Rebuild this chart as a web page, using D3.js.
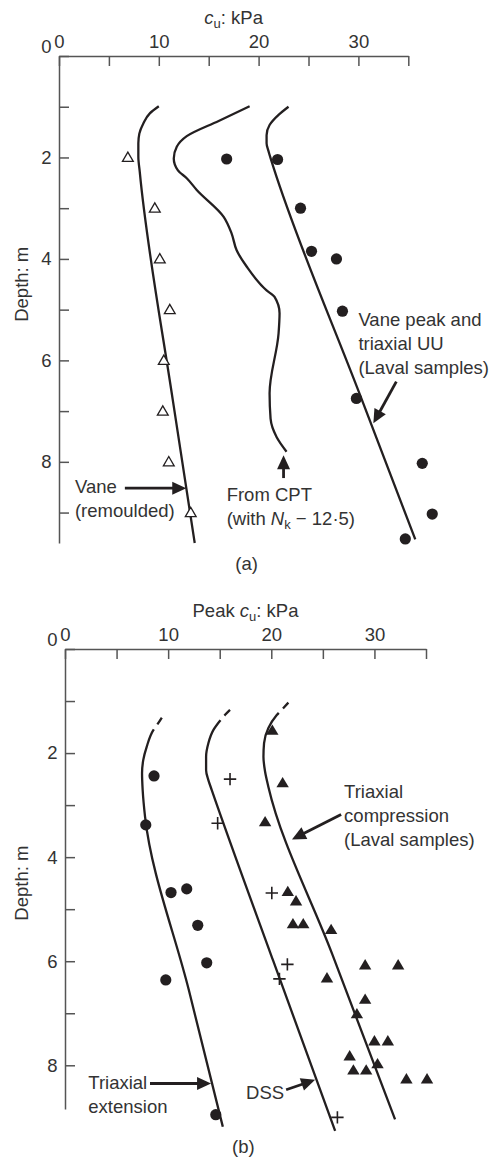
<!DOCTYPE html>
<html>
<head>
<meta charset="utf-8">
<script src="https://cdn.jsdelivr.net/npm/d3@7"></script>
<style>
  body { margin: 0; background: #fff; }
  svg { display: block; font-family: "Liberation Sans", Arial, Helvetica, sans-serif; }
</style>
</head>
<body>
<script>
// axis ticks
const kpaTicks = [0, 5, 10, 15, 20, 25, 30, 35];
const depthTicksA = [0, 1, 2, 3, 4, 5, 6, 7, 8, 9];
const depthTicksB = [0, 1, 2, 3, 4, 5, 6, 7, 8];

// (a) values are [cu kPa, depth m]
const remouldedPoints = [[6.9, 2], [9.6, 3], [10.1, 4], [11.1, 5], [10.5, 6], [10.4, 7], [11.0, 8], [13.2, 9]];
const remouldedCurve = [[10.0, 0.99], [9.1, 1.13], [8.45, 1.33], [8.05, 1.53], [7.95, 1.72], [7.95, 1.98],
  [8.1, 2.3], [11.4, 6.78], [13.6, 9.6]];
const cptCurve = [[19.1, 0.99], [16.0, 1.28], [12.8, 1.58], [11.8, 1.79], [11.5, 2.02], [11.9, 2.25], [12.8, 2.41],
  [13.8, 2.64], [16.5, 3.17], [17.3, 3.5], [17.8, 3.83], [18.8, 4.15], [20.8, 4.62], [21.6, 4.75], [22.1, 5.07],
  [22.0, 5.47], [21.1, 6.65], [21.2, 7.15], [21.8, 7.51], [22.8, 7.8]];
const peakPoints = [[16.8, 2.03], [21.9, 2.04], [24.2, 3.0], [25.3, 3.85], [27.8, 4.0], [28.4, 5.03],
  [29.8, 6.75], [36.4, 8.03], [37.4, 9.03], [34.7, 9.52]];
const peakCurve = [[23.0, 1.0], [22.0, 1.16], [21.1, 1.36], [20.8, 1.56], [20.8, 1.72], [20.97, 1.86], [21.1, 1.95],
  [21.5, 2.2], [30.2, 6.7], [35.7, 9.53]];

// (b)
const extPoints = [[8.63, 2.44], [7.83, 3.38], [10.28, 4.68], [11.8, 4.61], [12.87, 5.31], [13.74, 6.03],
  [9.77, 6.36], [14.62, 8.95]];
const extCurve = [[9.38, 1.32], [8.95, 1.45], [8.56, 1.56], [7.92, 1.88], [7.59, 2.13], [7.47, 2.39], [7.53, 2.71],
  [7.76, 3.22], [12.0, 6.55], [15.3, 9.18]];
const dssPoints = [[16.0, 2.5], [14.8, 3.35], [20.05, 4.69], [21.56, 6.06], [20.79, 6.34], [26.41, 9.0]];
const dssCurve = [[16.0, 1.17], [15.5, 1.27], [15.03, 1.38], [14.38, 1.56], [13.9, 1.81], [13.68, 2.07],
  [13.68, 2.33], [13.9, 2.52], [14.23, 2.71], [20.2, 6.0], [26.19, 9.26]];
const compPoints = [[20.1, 1.56], [21.1, 2.57], [19.4, 3.32], [21.6, 4.66], [22.4, 4.84], [22.1, 5.28],
  [23.1, 5.28], [25.8, 5.39], [29.1, 6.07], [32.3, 6.07], [25.4, 6.32], [29.1, 6.73], [28.3, 7.01],
  [30.0, 7.53], [31.3, 7.53], [27.6, 7.82], [27.96, 8.09], [29.2, 8.09], [30.3, 7.97], [33.1, 8.26], [35.1, 8.26]];
const compCurve = [[21.66, 1.03], [21.1, 1.15], [20.53, 1.27], [19.72, 1.52], [19.3, 1.81], [19.24, 2.07],
  [19.4, 2.36], [19.72, 2.65], [25.9, 5.86], [32.0, 9.04]];

const ink = "#231f20";
const axisInk = "#555";
const fs = 18.5;

const svg = d3.select("body").append("svg")
  .attr("width", 496)
  .attr("height", 1157);

function panel(o) {
  const x = d3.scaleLinear().domain([0, 35]).range(o.xr);
  const y = d3.scaleLinear().domain([0, o.dmax]).range(o.yr);
  const g = svg.append("g");

  const ax = g.append("g")
    .attr("transform", `translate(0,${y(0)})`)
    .call(d3.axisTop(x).tickValues(kpaTicks).tickFormat(d => d % 10 ? "" : d)
      .tickSizeInner(-10).tickSizeOuter(0).tickPadding(8));
  const ay = g.append("g")
    .attr("transform", `translate(${x(0)},0)`)
    .call(d3.axisLeft(y).tickValues(o.depthTicks).tickFormat(d => d % 2 ? "" : d)
      .tickSizeInner(-10).tickSizeOuter(0).tickPadding(7.5));

  [ax, ay].forEach(a => {
    a.attr("font-size", fs).attr("font-family", null);
    a.selectAll("path, line").attr("stroke", axisInk).attr("stroke-width", 1.5);
    a.selectAll("text").attr("fill", "#333");
  });
  ay.selectAll(".tick text").filter(d => d === 0).attr("y", -9);

  // axis titles
  const t = g.append("text")
    .attr("x", (o.xr[0] + o.xr[1]) / 2)
    .attr("y", y(0) - 32)
    .attr("text-anchor", "middle")
    .attr("font-size", fs)
    .attr("fill", "#333");
  t.append("tspan").text(o.prefix);
  t.append("tspan").attr("font-style", "italic").text("c");
  t.append("tspan").attr("font-size", 13).attr("dy", 4).text("u");
  t.append("tspan").attr("dy", -4).text(": kPa");

  g.append("text")
    .attr("transform", `translate(28,${y(4.5)}) rotate(-90)`)
    .attr("text-anchor", "middle")
    .attr("font-size", fs)
    .attr("fill", "#333")
    .text("Depth: m");

  return { x, y, g };
}

function curve(p, data, dash) {
  const line = d3.line()
    .x(d => p.x(d[0]))
    .y(d => p.y(d[1]))
    .curve(d3.curveMonotoneY);
  p.g.append("path")
    .attr("d", line(data))
    .attr("fill", "none")
    .attr("stroke", ink)
    .attr("stroke-width", 2.3)
    .attr("stroke-dasharray", dash || null);
}

function markers(p, data, shape, filled) {
  const sel = p.g.append("g").selectAll("path")
    .data(data)
    .join("path")
    .attr("transform", d => `translate(${p.x(d[0])},${p.y(d[1])})`)
    .attr("d", shape);
  if (filled === "stroke") {
    sel.attr("fill", "none").attr("stroke", ink).attr("stroke-width", 1.6);
  } else if (filled) {
    sel.attr("fill", ink);
  } else {
    sel.attr("fill", "#fff").attr("stroke", ink).attr("stroke-width", 1.3);
  }
}

function label(p, kpa, depth, lines, anchor) {
  const t = p.g.append("text")
    .attr("font-size", fs)
    .attr("fill", "#333")
    .attr("text-anchor", anchor || "start");
  lines.forEach((ln, i) => {
    const row = t.append("tspan").attr("x", p.x(kpa)).attr("y", p.y(depth) + i * 24);
    if (typeof ln === "string") {
      row.text(ln);
    } else {
      ln(row);
    }
  });
}

function arrow(p, from, to) {
  const x1 = p.x(from[0]), y1 = p.y(from[1]);
  const x2 = p.x(to[0]), y2 = p.y(to[1]);
  const len = Math.hypot(x2 - x1, y2 - y1);
  const ux = (x2 - x1) / len, uy = (y2 - y1) / len;
  const hl = 14, hw = 6.5;
  const bx = x2 - ux * hl, by = y2 - uy * hl;
  p.g.append("line")
    .attr("x1", x1).attr("y1", y1)
    .attr("x2", bx + ux * 2).attr("y2", by + uy * 2)
    .attr("stroke", ink).attr("stroke-width", 2.8);
  p.g.append("path")
    .attr("d", `M${x2},${y2}L${bx - uy * hw},${by + ux * hw}L${bx + uy * hw},${by - ux * hw}Z`)
    .attr("fill", ink);
}

const openTri = "M0,-5.3L5.4,4L-5.4,4Z";
const solidTri = "M0,-5.8L6.2,4.6L-6.2,4.6Z";
const dot = d3.symbol(d3.symbolCircle, Math.PI * 5.6 * 5.6)();
const cross = "M-6.2,0H6.2M0,-6.2V6.2";

// ---- (a)
const pa = panel({ xr: [59, 408.3], yr: [56, 543], dmax: 9.6, depthTicks: depthTicksA, prefix: "" });
curve(pa, remouldedCurve);
curve(pa, cptCurve);
curve(pa, peakCurve);
markers(pa, remouldedPoints, openTri, false);
markers(pa, peakPoints, dot, true);

label(pa, 30.0, 5.33, ["Vane peak and", "triaxial UU", "(Laval samples)"]);
arrow(pa, [33.8, 6.42], [31.5, 7.24]);
label(pa, 1.6, 8.62, ["Vane", "(remoulded)"]);
arrow(pa, [6.6, 8.52], [12.75, 8.52]);
label(pa, 16.8, 8.78, ["From CPT", row => {
  row.append("tspan").text("(with ");
  row.append("tspan").attr("font-style", "italic").text("N");
  row.append("tspan").attr("font-size", 13).attr("dy", 4).text("k");
  row.append("tspan").attr("dy", -4).text(" \u2212 12\u00b75)");
}]);
arrow(pa, [22.5, 8.32], [22.5, 7.87]);
label(pa, 18.8, 10.14, ["(a)"], "middle");

// ---- (b)
const pb = panel({ xr: [65, 426], yr: [649, 1109], dmax: 8.84, depthTicks: depthTicksB, prefix: "Peak " });
curve(pb, extCurve, "8,6,3000");
curve(pb, dssCurve, "8,6,3000");
curve(pb, compCurve, "8,6,3000");
markers(pb, extPoints, dot, true);
markers(pb, dssPoints, cross, "stroke");
markers(pb, compPoints, solidTri, true);

label(pb, 27.06, 2.86, ["Triaxial", "compression", "(Laval samples)"]);
arrow(pb, [26.77, 3.18], [22.0, 3.66]);
label(pb, 2.26, 8.45, ["Triaxial", "extension"]);
arrow(pb, [8.24, 8.35], [14.16, 8.35]);
label(pb, 17.56, 8.64, ["DSS"]);
arrow(pb, [21.44, 8.47], [24.25, 8.28]);
label(pb, 17.3, 9.68, ["(b)"], "middle");
</script>
</body>
</html>
